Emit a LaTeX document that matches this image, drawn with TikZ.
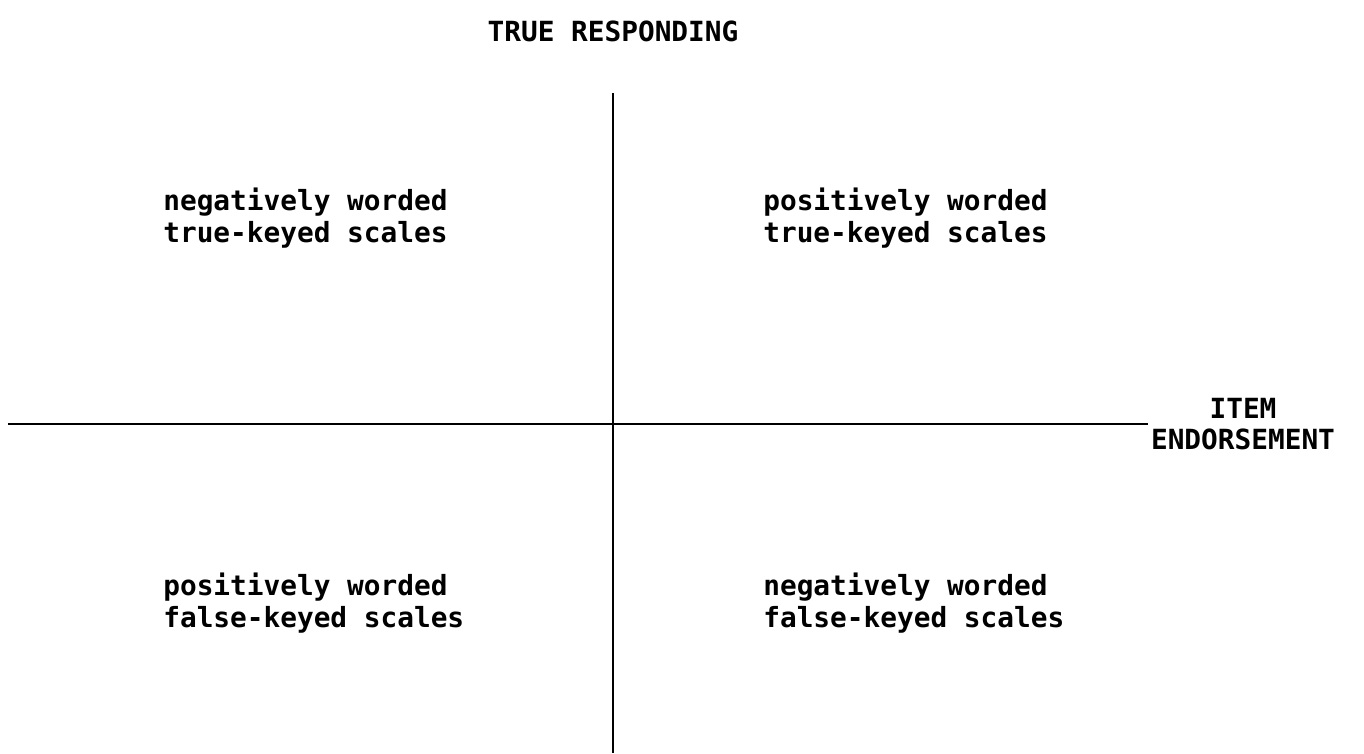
\documentclass[tikz,border=0pt]{standalone}
\usepackage{fontspec}
\setmonofont{DejaVu Sans Mono}
\usepackage{tikz}

\begin{document}
\begin{tikzpicture}[
    label/.style={font={\fontsize{15.8}{18}\selectfont\ttfamily\bfseries}, inner sep=0pt},
    quadrant/.style={label, align=left, anchor=west},
    axis/.style={black, line width=1.2pt},
    ]
        \useasboundingbox (-12.26,-6.58) rectangle (15.02,8.48);
        % Axes
        \coordinate (west) at (-12.1,0);
        \coordinate (east) at (10.7,0);
        \coordinate (north) at (0,6.62);
        \coordinate (south) at (0,-6.58);
        \draw[axis] (west) -- (east);
        \draw[axis] (north) -- (south);
        % Axis titles
        \node[label] (responding) at (0,7.86) {TRUE RESPONDING};
        \node[label, align=center] (endorsement) at (12.6,0) {ITEM\\ENDORSEMENT};
        % Quadrants
        \node[quadrant] (negtrue) at (-9.0,4.12) {negatively worded\\true-keyed scales};
        \node[quadrant] (postrue) at (3.0,4.12) {positively worded\\true-keyed scales};
        \node[quadrant] (posfalse) at (-9.0,-3.58) {positively worded\\false-keyed scales};
        \node[quadrant] (negfalse) at (3.0,-3.58) {negatively worded\\false-keyed scales};

\end{tikzpicture}
\end{document}
